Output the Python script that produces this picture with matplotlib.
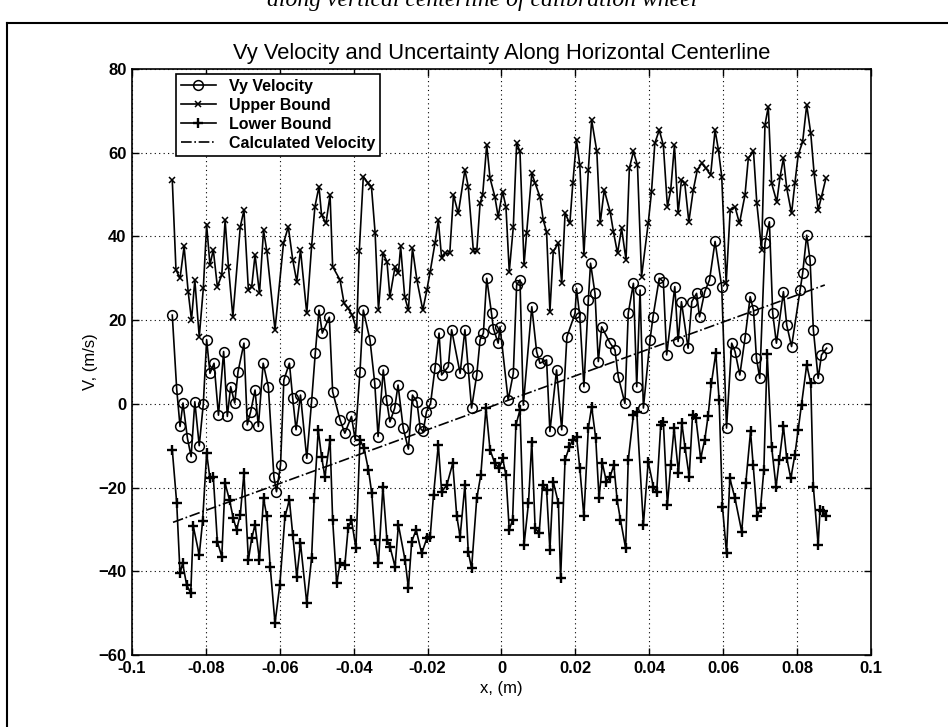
import matplotlib
matplotlib.use("Agg")
import matplotlib.pyplot as plt
from matplotlib.lines import Line2D

plt.rcParams['font.family'] = ['Liberation Sans', 'DejaVu Sans']

# ---------------- data ----------------
vy_x = [-0.0891, -0.0879, -0.0870, -0.0862, -0.0850, -0.0840, -0.0830, -0.0818, -0.0807, -0.0798,
        -0.0789, -0.0778, -0.0766, -0.0752, -0.0742, -0.0733, -0.0722, -0.0713, -0.0697, -0.0688,
        -0.0679, -0.0667, -0.0658, -0.0645, -0.0631, -0.0616, -0.0609, -0.0598, -0.0589, -0.0574,
        -0.0565, -0.0556, -0.0544, -0.0527, -0.0514, -0.0504, -0.0494, -0.0485, -0.0466, -0.0457,
        -0.0437, -0.0424, -0.0406, -0.0396, -0.0383, -0.0374, -0.0356, -0.0343, -0.0334, -0.0320,
        -0.0311, -0.0302, -0.0289, -0.0280, -0.0266, -0.0252, -0.0241, -0.0229, -0.0220, -0.0212,
        -0.0203, -0.0192, -0.0180, -0.0169, -0.0162, -0.0144, -0.0135, -0.0112, -0.0099, -0.0090,
        -0.0081, -0.0067, -0.0058, -0.0049, -0.0040, -0.0027, -0.0022, -0.0009, -0.0004, 0.0018,
        0.0032, 0.0041, 0.0050, 0.0059, 0.0082, 0.0095, 0.0104, 0.0122, 0.0131, 0.0149,
        0.0163, 0.0177, 0.0199, 0.0203, 0.0212, 0.0223, 0.0235, 0.0241, 0.0253, 0.0262,
        0.0271, 0.0294, 0.0307, 0.0316, 0.0334, 0.0343, 0.0357, 0.0366, 0.0375, 0.0384,
        0.0402, 0.0410, 0.0427, 0.0438, 0.0447, 0.0469, 0.0478, 0.0487, 0.0505, 0.0515,
        0.0528, 0.0536, 0.0550, 0.0563, 0.0578, 0.0596, 0.0609, 0.0623, 0.0632, 0.0645,
        0.0659, 0.0673, 0.0682, 0.0690, 0.0699, 0.0713, 0.0725, 0.0734, 0.0744, 0.0763,
        0.0772, 0.0785, 0.0808, 0.0815, 0.0826, 0.0835, 0.0844, 0.0857, 0.0866, 0.0880]
vy_v = [21.2, 3.5, -5.4, 0.2, -8.2, -12.6, 0.5, -10.0, 0.0, 15.3,
        7.3, 9.7, -2.7, 12.5, -3.0, 4.1, 0.2, 7.7, 14.5, -5.0,
        -1.9, 3.3, -5.4, 9.7, 4.1, -17.4, -21.0, -14.6, 5.7, 9.7,
        1.3, -6.2, 2.1, -13.0, 0.5, 12.1, 22.4, 16.9, 20.7, 2.9,
        -3.8, -7.0, -3.0, -8.6, 7.7, 22.4, 15.3, 4.9, -7.8, 8.1,
        0.9, -4.3, -1.0, 4.5, -5.8, -10.8, 2.1, 0.5, -5.8, -6.6,
        -1.9, 0.1, 8.5, 16.9, 6.9, 8.9, 17.7, 7.3, 17.7, 8.5,
        -1.0, 6.9, 15.3, 16.9, 30.0, 21.6, 18.0, 14.5, 18.4, 0.9,
        7.3, 28.4, 29.6, -0.3, 23.2, 12.5, 9.7, 10.5, -6.6, 8.1,
        -6.2, 16.0, 21.6, 27.6, 20.8, 4.1, 24.8, 33.6, 26.4, 10.1,
        18.4, 14.5, 12.9, 6.5, 0.1, 21.6, 28.8, 4.1, 27.2, -1.0,
        15.3, 20.8, 30.0, 29.2, 11.7, 28.0, 14.9, 24.4, 13.3, 24.4,
        26.4, 20.8, 26.8, 29.6, 38.8, 28.0, -5.8, 14.5, 12.5, 6.9,
        15.7, 25.6, 22.4, 10.9, 6.1, 38.4, 43.5, 21.6, 14.5, 26.8,
        18.8, 13.7, 27.2, 31.2, 40.3, 34.4, 17.7, 6.1, 11.7, 13.3]

up_x = [-0.0891, -0.0881, -0.0870, -0.0859, -0.0848, -0.0839, -0.0830, -0.0818, -0.0807, -0.0798,
        -0.0789, -0.0780, -0.0769, -0.0757, -0.0748, -0.0739, -0.0727, -0.0707, -0.0697, -0.0685,
        -0.0676, -0.0667, -0.0655, -0.0644, -0.0635, -0.0613, -0.0590, -0.0577, -0.0565, -0.0554,
        -0.0544, -0.0527, -0.0514, -0.0505, -0.0494, -0.0487, -0.0475, -0.0464, -0.0457, -0.0437,
        -0.0426, -0.0415, -0.0404, -0.0392, -0.0385, -0.0374, -0.0361, -0.0352, -0.0342, -0.0333,
        -0.0321, -0.0310, -0.0302, -0.0288, -0.0279, -0.0273, -0.0262, -0.0252, -0.0241, -0.0229,
        -0.0213, -0.0202, -0.0193, -0.0180, -0.0171, -0.0162, -0.0153, -0.0140, -0.0130, -0.0117,
        -0.0099, -0.0090, -0.0076, -0.0067, -0.0058, -0.0051, -0.0040, -0.0031, -0.0018, -0.0009,
        0.0003, 0.0012, 0.0021, 0.0032, 0.0041, 0.0050, 0.0061, 0.0068, 0.0082, 0.0091,
        0.0104, 0.0113, 0.0122, 0.0131, 0.0140, 0.0154, 0.0163, 0.0172, 0.0185, 0.0193,
        0.0203, 0.0212, 0.0223, 0.0235, 0.0244, 0.0258, 0.0267, 0.0278, 0.0294, 0.0303,
        0.0314, 0.0325, 0.0337, 0.0346, 0.0357, 0.0368, 0.0379, 0.0397, 0.0406, 0.0415,
        0.0427, 0.0438, 0.0449, 0.0458, 0.0468, 0.0478, 0.0487, 0.0496, 0.0507, 0.0519,
        0.0530, 0.0542, 0.0553, 0.0566, 0.0578, 0.0587, 0.0596, 0.0608, 0.0619, 0.0632,
        0.0644, 0.0659, 0.0668, 0.0682, 0.0691, 0.0704, 0.0713, 0.0722, 0.0731, 0.0745,
        0.0754, 0.0763, 0.0772, 0.0785, 0.0794, 0.0803, 0.0815, 0.0826, 0.0837, 0.0846,
        0.0857, 0.0866, 0.0878]
up_v = [53.5, 32.0, 30.0, 37.6, 26.8, 20.0, 29.6, 16.0, 27.6, 42.7,
        33.2, 36.8, 28.0, 30.8, 43.9, 32.8, 20.8, 42.3, 46.3, 27.2,
        28.0, 35.6, 26.4, 41.5, 36.4, 17.7, 38.4, 42.3, 34.4, 29.2,
        36.8, 21.6, 37.6, 47.1, 51.9, 45.1, 43.1, 49.9, 32.8, 29.6,
        24.0, 22.8, 21.2, 17.7, 36.4, 54.3, 52.7, 51.9, 40.8, 22.4,
        36.0, 34.0, 25.6, 32.8, 31.2, 37.6, 25.6, 22.4, 37.2, 29.6,
        22.4, 27.2, 31.6, 38.4, 43.9, 34.8, 36.0, 36.0, 49.9, 45.5,
        55.9, 51.9, 36.4, 36.4, 47.9, 49.9, 61.9, 53.9, 49.5, 44.7,
        50.7, 47.1, 31.6, 42.3, 62.3, 60.3, 33.2, 40.8, 55.1, 52.7,
        49.5, 43.9, 41.1, 22.0, 36.4, 38.4, 28.8, 45.5, 43.1, 52.7,
        63.0, 57.0, 35.6, 55.9, 67.8, 60.3, 43.1, 51.1, 45.9, 41.1,
        36.0, 41.9, 34.4, 56.3, 60.3, 57.0, 30.4, 43.1, 50.7, 62.3,
        65.4, 61.8, 47.1, 51.1, 61.8, 45.5, 53.5, 52.7, 43.5, 51.1,
        55.9, 57.5, 56.3, 54.7, 65.4, 60.7, 54.3, 28.8, 46.3, 47.1,
        43.1, 49.9, 58.7, 60.3, 47.9, 36.8, 66.6, 71.0, 52.7, 48.3,
        54.3, 58.7, 51.5, 45.5, 52.7, 59.5, 62.6, 71.4, 64.6, 55.1,
        46.3, 49.5, 53.9]

lo_x = [-0.0891, -0.0879, -0.0870, -0.0863, -0.0852, -0.0841, -0.0834, -0.0818, -0.0809, -0.0798,
        -0.0789, -0.0780, -0.0769, -0.0757, -0.0748, -0.0736, -0.0726, -0.0717, -0.0707, -0.0697,
        -0.0685, -0.0676, -0.0667, -0.0655, -0.0644, -0.0635, -0.0626, -0.0613, -0.0600, -0.0586,
        -0.0574, -0.0565, -0.0554, -0.0544, -0.0527, -0.0514, -0.0507, -0.0496, -0.0487, -0.0478,
        -0.0464, -0.0457, -0.0446, -0.0437, -0.0424, -0.0415, -0.0406, -0.0394, -0.0383, -0.0372,
        -0.0360, -0.0351, -0.0342, -0.0333, -0.0321, -0.0310, -0.0302, -0.0288, -0.0279, -0.0261,
        -0.0252, -0.0243, -0.0231, -0.0216, -0.0202, -0.0193, -0.0184, -0.0171, -0.0162, -0.0148,
        -0.0132, -0.0121, -0.0112, -0.0099, -0.0090, -0.0081, -0.0067, -0.0056, -0.0042, -0.0031,
        -0.0018, -0.0006, 0.0003, 0.0012, 0.0021, 0.0030, 0.0039, 0.0050, 0.0061, 0.0073,
        0.0082, 0.0091, 0.0102, 0.0111, 0.0122, 0.0131, 0.0140, 0.0154, 0.0160, 0.0172,
        0.0184, 0.0193, 0.0203, 0.0212, 0.0223, 0.0235, 0.0244, 0.0255, 0.0264, 0.0273,
        0.0284, 0.0294, 0.0304, 0.0313, 0.0322, 0.0336, 0.0343, 0.0357, 0.0366, 0.0384,
        0.0397, 0.0411, 0.0420, 0.0431, 0.0438, 0.0449, 0.0458, 0.0467, 0.0479, 0.0488,
        0.0497, 0.0508, 0.0517, 0.0526, 0.0539, 0.0550, 0.0559, 0.0568, 0.0580, 0.0589,
        0.0598, 0.0609, 0.0618, 0.0632, 0.0650, 0.0661, 0.0674, 0.0681, 0.0692, 0.0701,
        0.0710, 0.0719, 0.0731, 0.0743, 0.0752, 0.0763, 0.0772, 0.0783, 0.0794, 0.0803,
        0.0812, 0.0826, 0.0837, 0.0844, 0.0857, 0.0862, 0.0871, 0.0878]
lo_v = [-11.0, -23.7, -40.5, -38.1, -43.3, -45.2, -29.3, -36.1, -28.1, -11.8,
        -17.8, -17.4, -32.9, -36.5, -19.0, -23.0, -27.3, -30.1, -26.5, -16.6,
        -37.3, -32.1, -28.9, -37.3, -22.6, -26.9, -38.9, -52.4, -43.3, -26.9,
        -23.0, -31.3, -41.3, -33.3, -47.6, -36.9, -22.6, -6.2, -12.6, -17.4,
        -8.6, -27.7, -42.9, -38.1, -38.5, -29.7, -27.7, -34.5, -8.6, -10.6,
        -15.8, -21.4, -32.5, -38.1, -19.8, -32.5, -34.1, -38.9, -28.9, -37.3,
        -44.0, -32.9, -30.1, -35.7, -32.1, -31.7, -21.8, -9.8, -21.0, -19.4,
        -14.2, -26.9, -31.7, -19.4, -35.3, -39.3, -22.6, -17.0, -1.0, -11.0,
        -14.2, -15.4, -13.0, -17.0, -30.1, -27.7, -5.0, -1.5, -33.7, -23.7,
        -9.0, -29.7, -30.9, -19.4, -20.6, -34.9, -18.6, -23.7, -41.7, -13.4,
        -10.2, -8.6, -7.8, -15.4, -26.9, -5.8, -0.7, -8.2, -22.6, -14.2,
        -18.6, -17.4, -14.6, -23.0, -27.7, -34.5, -13.4, -2.7, -1.9, -28.9,
        -13.8, -19.8, -21.0, -5.0, -4.3, -24.2, -14.6, -5.8, -16.6, -4.6,
        -10.6, -17.4, -2.7, -3.4, -13.0, -8.6, -3.0, 4.9, 12.1, 0.9,
        -24.6, -35.7, -17.8, -22.6, -30.5, -19.0, -6.6, -14.6, -26.9, -24.9,
        -15.8, 12.0, -10.2, -19.8, -13.4, -5.4, -13.0, -17.8, -12.2, -6.2,
        -0.3, 9.3, 4.9, -19.8, -33.7, -25.3, -25.7, -26.9]

calc_x = [-0.0889, 0.0875]
calc_v = [-28.3, 28.4]

x_ticks = [-0.1, -0.08, -0.06, -0.04, -0.02, 0, 0.02, 0.04, 0.06, 0.08, 0.1]
x_tick_labels = ['-0.1', '-0.08', '-0.06', '-0.04', '-0.02', '0', '0.02', '0.04', '0.06', '0.08', '0.1']
y_ticks = [-60, -40, -20, 0, 20, 40, 60, 80]

title = 'Vy Velocity and Uncertainty Along Horizontal Centerline'
caption = 'along vertical centerline of calibration wheel'
series_names = ['Vy Velocity', 'Upper Bound', 'Lower Bound', 'Calculated Velocity']

# ---------------- figure ----------------
W, H = 948, 727
fig = plt.figure(figsize=(W / 100, H / 100), dpi=100)
ax = fig.add_axes([132 / W, 1 - 655 / H, (871 - 132) / W, (655 - 69) / H])

k = 'black'
ax.plot(vy_x, vy_v, '-', color=k, lw=1.2, marker='o', ms=7, mfc='none', mew=1.1, label=series_names[0])
ax.plot(up_x, up_v, '-', color=k, lw=1.2, marker='x', ms=5, mew=1.1, label=series_names[1])
ax.plot(lo_x, lo_v, '-', color=k, lw=1.2, marker='+', ms=7, mew=1.7, label=series_names[2])
ax.plot(calc_x, calc_v, '-.', color=k, lw=1.2, label=series_names[3])

ax.set_xlim(-0.1, 0.1)
ax.set_ylim(-60, 80)
ax.set_xticks(x_ticks)
ax.set_xticklabels(x_tick_labels)
ax.set_yticks(y_ticks)
ax.grid(True, linestyle=(0, (1, 3)), color=k, lw=0.8)
ax.tick_params(direction='in', length=5, width=1, top=True, right=True,
               labelsize=12, pad=4)
for lab in ax.get_xticklabels() + ax.get_yticklabels():
    lab.set_fontweight('bold')
for s in ax.spines.values():
    s.set_linewidth(1.2)

ax.set_title(title, fontsize=15.8, pad=7)
ax.set_xlabel('x, (m)', fontsize=12, labelpad=4)
ax.set_ylabel('V, (m/s)', fontsize=12, labelpad=0)

leg = ax.legend(loc='upper left', bbox_to_anchor=(44 / 739, 1 - 5 / 586), fontsize=11.5,
                frameon=True, fancybox=False, edgecolor=k, framealpha=1,
                handlelength=2.2, handletextpad=0.8, borderpad=0.3, labelspacing=0.25,
                borderaxespad=0)
leg.get_frame().set_linewidth(1.2)
for t in leg.get_texts():
    t.set_fontweight('bold')

# outer page frame and caption (caption is cut by the top edge, as in the scan)
fig.add_artist(Line2D([7 / W, 7 / W], [0, 1 - 23 / H], transform=fig.transFigure, color=k, lw=1.5))
fig.add_artist(Line2D([7 / W, 1], [1 - 23 / H, 1 - 23 / H], transform=fig.transFigure, color=k, lw=1.5))
fig.text(482 / W, 1 - 6 / H, caption, ha='center', va='baseline', fontsize=17,
         family=['Liberation Serif', 'DejaVu Serif'], style='italic')

fig.savefig('out.png', dpi=100)
